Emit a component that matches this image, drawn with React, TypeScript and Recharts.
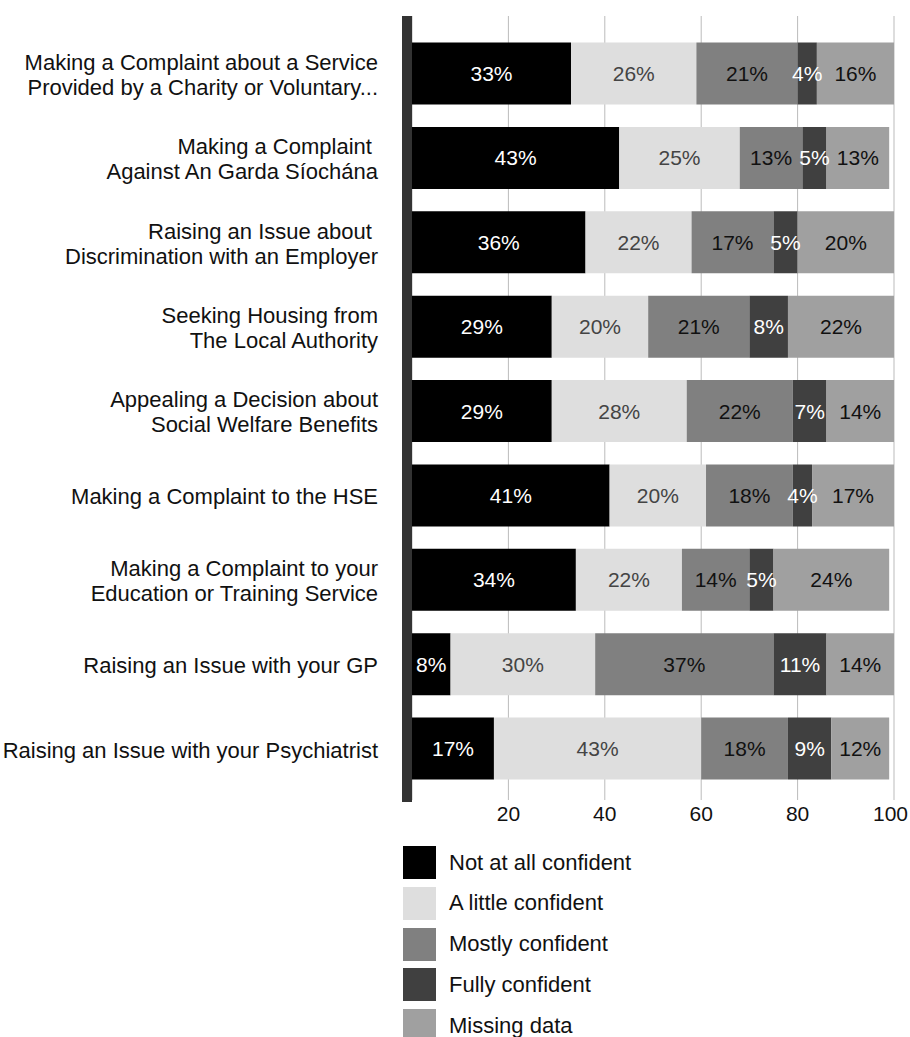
import React from "react";
import {
  BarChart,
  Bar,
  XAxis,
  YAxis,
  CartesianGrid,
  Legend,
  LabelList,
  ReferenceLine,
} from "recharts";

const categories = [
  "Making a Complaint about a Service\nProvided by a Charity or Voluntary...",
  "Making a Complaint \nAgainst An Garda Síochána",
  "Raising an Issue about \nDiscrimination with an Employer",
  "Seeking Housing from\nThe Local Authority",
  "Appealing a Decision about\nSocial Welfare Benefits",
  "Making a Complaint to the HSE",
  "Making a Complaint to your\nEducation or Training Service",
  "Raising an Issue with your GP",
  "Raising an Issue with your Psychiatrist",
];

const notAtAll = [33, 43, 36, 29, 29, 41, 34, 8, 17];
const aLittle = [26, 25, 22, 20, 28, 20, 22, 30, 43];
const mostly = [21, 13, 17, 21, 22, 18, 14, 37, 18];
const fully = [4, 5, 5, 8, 7, 4, 5, 11, 9];
const missing = [16, 13, 20, 22, 14, 17, 24, 14, 12];

const seriesNames = [
  "Not at all confident",
  "A little confident",
  "Mostly confident",
  "Fully confident",
  "Missing data",
];
const xTicks = [20, 40, 60, 80, 100];

const FONT = "'Liberation Sans', Arial, Helvetica, sans-serif";

const data = categories.map((name, i) => ({
  name,
  notAtAll: notAtAll[i],
  aLittle: aLittle[i],
  mostly: mostly[i],
  fully: fully[i],
  missing: missing[i],
}));

const series = [
  { key: "notAtAll", fill: "#000000", text: "#ffffff" },
  { key: "aLittle", fill: "#dedede", text: "#444444" },
  { key: "mostly", fill: "#808080", text: "#111111" },
  { key: "fully", fill: "#404040", text: "#ffffff" },
  { key: "missing", fill: "#a0a0a0", text: "#111111" },
];

function CategoryTick(props: any) {
  const { x, y, payload } = props;
  const lines = String(payload.value).split("\n");
  const lh = 25;
  const start = y - ((lines.length - 1) * lh) / 2 + 1;
  return (
    <text textAnchor="end" fontSize={22} fill="#111" fontFamily={FONT}>
      {lines.map((l, i) => (
        <tspan key={i} x={x - 34} y={start + i * lh} dy="0.35em" style={{ whiteSpace: "pre" }}>
          {l}
        </tspan>
      ))}
    </text>
  );
}

// last label is pulled inward so it stays inside the frame
function ValueTick(props: any) {
  const { x, y, payload } = props;
  const last = payload.value === xTicks[xTicks.length - 1];
  return (
    <text
      x={last ? x + 14 : x}
      y={y}
      dy="0.71em"
      textAnchor={last ? "end" : "middle"}
      fontSize={21}
      fill="#111"
      fontFamily={FONT}
    >
      {payload.value}
    </text>
  );
}

function AxisBar(p: any) {
  const top = Math.min(p.y1, p.y2);
  const bottom = Math.max(p.y1, p.y2);
  return <rect x={p.x1 - 10} y={top} width={10} height={bottom - top + 2} fill="#333" />;
}

function renderLegend(props: any) {
  const items = [...(props.payload || [])].sort(
    (a: any, b: any) => seriesNames.indexOf(a.value) - seriesNames.indexOf(b.value)
  );
  return (
    <div>
      {items.map((e: any) => (
        <div key={e.value} style={{ display: "flex", alignItems: "center", height: 33, marginBottom: 7.75 }}>
          <span style={{ width: 33, height: 33, background: e.color, display: "inline-block" }} />
          <span style={{ marginLeft: 13, fontSize: 22, color: "#111", fontFamily: FONT }}>{e.value}</span>
        </div>
      ))}
    </div>
  );
}

export default function App() {
  return (
    <div style={{ position: "absolute", left: 0, top: 0, width: 910, height: 1037, background: "#fff" }}>
      <BarChart
        width={910}
        height={1037}
        data={data}
        layout="vertical"
        margin={{ top: 16, right: 16, bottom: 207, left: 12 }}
        style={{ fontFamily: FONT }}
      >
        <CartesianGrid horizontal={false} stroke="#bbbbbb" />
        <XAxis
          type="number"
          domain={[0, 100]}
          ticks={xTicks}
          axisLine={false}
          tickLine={false}
          tickSize={0}
          tickMargin={6}
          height={30}
          tick={<ValueTick />}
        />
        <YAxis
          type="category"
          dataKey="name"
          width={400}
          axisLine={false}
          tickLine={false}
          tickSize={0}
          tickMargin={0}
          padding={{ top: 15.5, bottom: 9 }}
          tick={<CategoryTick />}
          interval={0}
        />
        <ReferenceLine x={0} shape={AxisBar} />
        {series.map((s, i) => (
          <Bar
            key={s.key}
            dataKey={s.key}
            name={seriesNames[i]}
            stackId="a"
            fill={s.fill}
            barSize={62}
            isAnimationActive={false}
          >
            <LabelList
              dataKey={s.key}
              position="center"
              formatter={(v: any) => `${v}%`}
              fill={s.text}
              fontSize={21}
              fontFamily={FONT}
            />
          </Bar>
        ))}
        <Legend
          layout="vertical"
          align="center"
          verticalAlign="middle"
          content={renderLegend}
          wrapperStyle={{ left: 403, top: 846, width: 400, height: "auto" }}
        />
      </BarChart>
    </div>
  );
}
